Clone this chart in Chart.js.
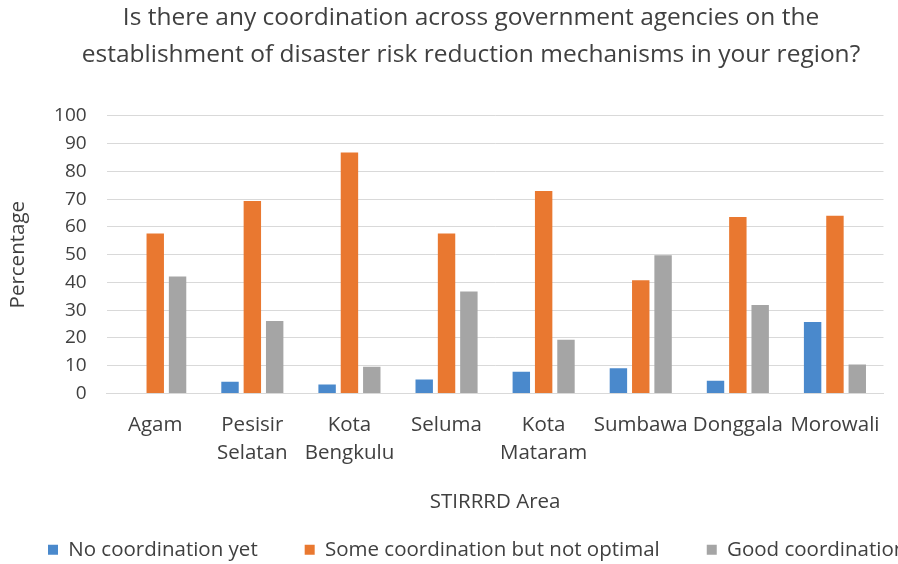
<!DOCTYPE html>
<html>
<head>
<meta charset="utf-8">
<script src="https://cdn.jsdelivr.net/npm/chart.js@4.4.1/dist/chart.umd.min.js"></script>
<style>
  html, body { margin: 0; padding: 0; background: #ffffff; overflow: hidden; }
  #wrap { width: 898px; height: 564px; }
</style>
</head>
<body>
<div id="wrap"><canvas id="chart" width="898" height="564"></canvas></div>
<script>
// Survey areas (x-axis categories); two-word names are split over two lines
const areas = ['Agam', ['Pesisir', 'Selatan'], ['Kota', 'Bengkulu'], 'Seluma',
               ['Kota', 'Mataram'], 'Sumbawa', 'Donggala', 'Morowali'];

// Share of respondents (%) per answer
const noCoordination   = [0, 4.2, 3.2, 5.0, 7.8, 9.1, 4.6, 25.7];
const someCoordination = [57.6, 69.4, 86.8, 57.6, 73.0, 40.8, 63.6, 64.0];
const goodCoordination = [42.1, 26.1, 9.6, 36.7, 19.3, 49.8, 31.9, 10.4];

const seriesNames = ['No coordination yet', 'Some coordination but not optimal', 'Good coordination'];
const yTicks = [0, 10, 20, 30, 40, 50, 60, 70, 80, 90, 100];

const titleLines = ['Is there any coordination across government agencies on the',
                    'establishment of disaster risk reduction mechanisms in your region?'];

const FONT = '"Open Sans", "Noto Sans", sans-serif';
const TEXT = '#404040';

// Lets the single legend row run past the right edge instead of wrapping,
// and centres the title over the plot rather than the whole canvas
const legendRow = {
  id: 'legendRow',
  beforeLayout(chart) {
    const lg = chart.legend;
    if (lg && !lg._wideRow) {
      const update = lg.update;
      lg.update = function (w, h, m) { return update.call(this, w + 120, h, m); };
      lg._wideRow = true;
    }
  },
  afterLayout(chart) {
    const t = chart.titleBlock;
    if (t) { t.left += 52; }
    const lg = chart.legend;
    if (lg && lg.lineWidths) {
      const pad = lg.options.labels.padding;
      lg.right = lg.left + 1200;
      const start = (lg.left + pad + lg.right - lg.lineWidths[0]) / 2;
      const d = 48 - start;
      lg.left += d; lg.right += d;
    }
  }
};

new Chart(document.getElementById('chart'), {
  type: 'bar',
  data: {
    labels: areas,
    datasets: [
      { label: seriesNames[0], data: noCoordination,   backgroundColor: '#4a89cc' },
      { label: seriesNames[1], data: someCoordination, backgroundColor: '#e97830' },
      { label: seriesNames[2], data: goodCoordination, backgroundColor: '#a5a5a5' }
    ]
  },
  options: {
    responsive: false,
    animation: false,
    devicePixelRatio: 1,
    datasets: { bar: { categoryPercentage: 0.69, barPercentage: 0.78 } },
    layout: { padding: { left: 0, right: 8, top: 0, bottom: -6 } },
    plugins: {
      title: {
        display: true,
        text: titleLines,
        color: TEXT,
        font: { family: FONT, size: 24.5, weight: 'normal', lineHeight: 1.51 },
        padding: { top: 0, bottom: 42 }
      },
      legend: {
        position: 'bottom',
        labels: {
          boxWidth: 10, boxHeight: 10, padding: 47,
          color: TEXT,
          font: { family: FONT, size: 20.5 }
        }
      },
      tooltip: { enabled: false }
    },
    scales: {
      x: {
        grid: { display: false, drawTicks: false },
        border: { display: true, color: '#d9d9d9', width: 1 },
        ticks: {
          color: TEXT, padding: 18, maxRotation: 0, autoSkip: false,
          font: { family: FONT, size: 20.5, lineHeight: 1.366 }
        },
        title: {
          display: true, text: 'STIRRRD Area', color: TEXT,
          font: { family: FONT, size: 20.5, lineHeight: 1.2 },
          padding: { top: 4, bottom: -21.5 }
        }
      },
      y: {
        min: 0, max: 100,
        afterBuildTicks(scale) { scale.ticks = yTicks.map(v => ({ value: v })); },
        grid: { color: '#d9d9d9', lineWidth: 1, drawTicks: false },
        border: { display: false },
        ticks: {
          color: TEXT, padding: 20,
          font: { family: FONT, size: 19 }
        },
        title: {
          display: true, text: 'Percentage', color: TEXT,
          font: { family: FONT, size: 20.5, lineHeight: 1.2 },
          padding: { top: 6, bottom: 3.5 }
        }
      }
    }
  },
  plugins: [legendRow]
});
</script>
</body>
</html>
